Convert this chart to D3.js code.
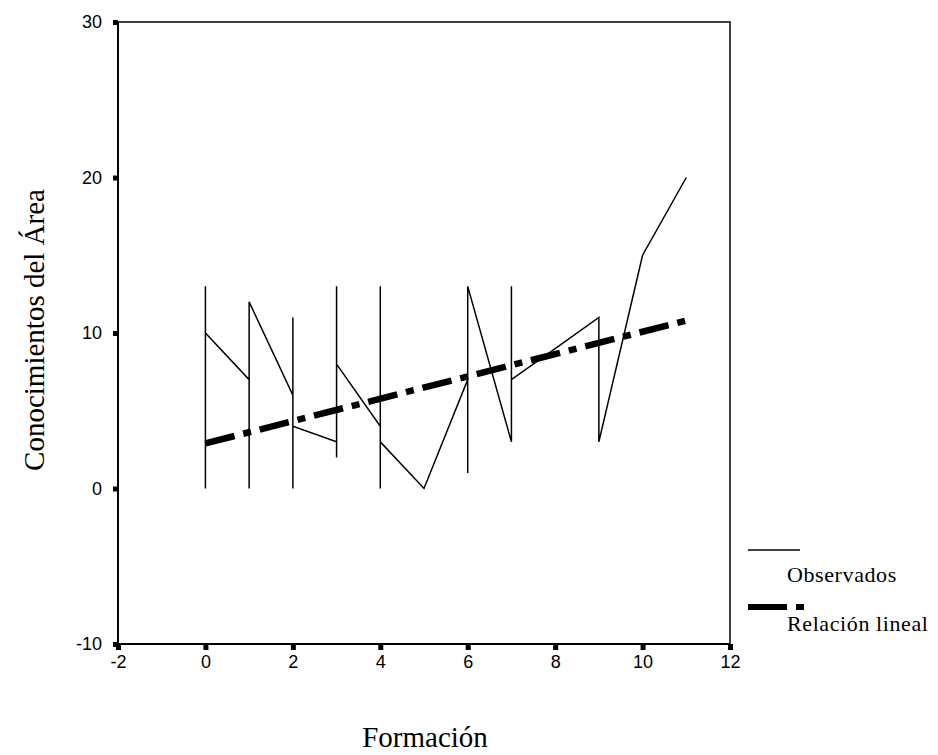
<!DOCTYPE html>
<html>
<head>
<meta charset="utf-8">
<script src="https://cdn.jsdelivr.net/npm/d3@7"></script>
<style>
  html, body { margin: 0; padding: 0; background: #fff; }
  svg { display: block; }
</style>
</head>
<body>
<svg id="chart" width="938" height="755"></svg>
<script>
// ---- data ----
const obsX = [0,0,0, 1,1,1, 2,2,2,2, 3,3,3,3, 4,4,4,4, 5, 6,6,6, 7,7,7, 8, 9,9, 10, 11];
const obsY = [0,13,10, 7,0,12, 6,0,11,4, 3,2,13,8, 4,0,13,3, 0, 7,1,13, 3,13,7, 9, 11,3, 15, 20];
const fitX = [0, 11];
const fitY = [2.9, 10.8];
const xTicks = [-2, 0, 2, 4, 6, 8, 10, 12];
const yTicks = [-10, 0, 10, 20, 30];
const xTitle = "Formación";
const yTitle = "Conocimientos del Área";
const legendLabels = ["Observados", "Relación lineal"];

const svg = d3.select("#chart");
const pL = 118, pR = 730, pT = 22, pB = 644;
const x = d3.scaleLinear().domain([-2, 12]).range([pL, pR]);
const y = d3.scaleLinear().domain([-10, 30]).range([pB, pT]);

// frame (top & right)
svg.append("path")
  .attr("d", `M${pL},${pT}H${pR}V${pB}`)
  .attr("fill", "none").attr("stroke", "#000").attr("stroke-width", 1.5);

// axes
const fmt = d => String(d);
const yAxis = d3.axisLeft(y).tickValues(yTicks).tickSize(5).tickPadding(11).tickFormat(fmt);
const xAxis = d3.axisBottom(x).tickValues(xTicks).tickSize(6).tickPadding(5).tickFormat(fmt);

const gy = svg.append("g").attr("transform", `translate(${pL},0)`).call(yAxis);
const gx = svg.append("g").attr("transform", `translate(0,${pB})`).call(xAxis);
[gx, gy].forEach(g => {
  g.select(".domain").attr("stroke", "#000").attr("stroke-width", 2);
  g.selectAll(".tick line").attr("stroke", "#000").attr("stroke-width", 5);
  g.selectAll(".tick text").attr("fill", "#000")
    .style("font-family", "'Liberation Sans', Arial, sans-serif").style("font-size", "18px");
});
gy.select(".domain").attr("d", `M0,${pT}V${pB}`);
gx.select(".domain").attr("d", `M${pL},0H${pR}`);

// observed line
const line = d3.line().x(d => x(d[0])).y(d => y(d[1]));
const obs = obsX.map((v, i) => [v, obsY[i]]);
svg.append("path").datum(obs)
  .attr("d", line)
  .attr("fill", "none").attr("stroke", "#000").attr("stroke-width", 1.5)
  .attr("stroke-linejoin", "miter");

// linear fit
const fit = fitX.map((v, i) => [v, fitY[i]]);
svg.append("path").datum(fit)
  .attr("d", line)
  .attr("fill", "none").attr("stroke", "#000").attr("stroke-width", 6.5)
  .attr("stroke-dasharray", "30,9,8,9");

// titles
const serif = "'Liberation Serif', 'Times New Roman', serif";
svg.append("text").attr("x", 425).attr("y", 747).attr("text-anchor", "middle")
  .style("font-family", serif).style("font-size", "29px").attr("fill", "#000").text(xTitle);
svg.append("text").attr("transform", "translate(44,330) rotate(-90)").attr("text-anchor", "middle")
  .style("font-family", serif).style("font-size", "29px").attr("fill", "#000").text(yTitle);

// legend
svg.append("line").attr("x1", 748).attr("x2", 800).attr("y1", 550).attr("y2", 550)
  .attr("stroke", "#000").attr("stroke-width", 1.5);
svg.append("text").attr("x", 787).attr("y", 582)
  .style("font-family", serif).style("font-size", "22px").style("letter-spacing", "0.6px")
  .attr("fill", "#000").text(legendLabels[0]);
svg.append("line").attr("x1", 748).attr("x2", 804).attr("y1", 607).attr("y2", 607)
  .attr("stroke", "#000").attr("stroke-width", 6).attr("stroke-dasharray", "39,9,8,20");
svg.append("text").attr("x", 787).attr("y", 631)
  .style("font-family", serif).style("font-size", "22px").style("letter-spacing", "0.6px")
  .attr("fill", "#000").text(legendLabels[1]);
</script>
</body>
</html>
